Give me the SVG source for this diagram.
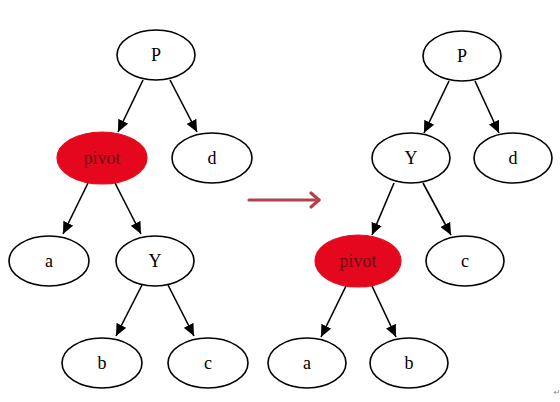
<svg xmlns="http://www.w3.org/2000/svg" width="560" height="402" viewBox="0 0 560 402">
<defs>
<marker id="ah" markerWidth="12" markerHeight="11" viewBox="0 0 12 11" refX="12" refY="5.5" orient="auto" markerUnits="userSpaceOnUse">
<path d="M0,0 L12,5.5 L0,11 Z" fill="#000"/>
</marker>
</defs>
<style>
.n{fill:#fff;stroke:#000;stroke-width:1.6}
.r{fill:#e5071d;stroke:#e0101e;stroke-width:1.2}
.t{font-family:"Liberation Serif",serif;font-size:18px;text-anchor:middle;fill:#000}
.tr{font-family:"Liberation Serif",serif;font-size:18px;text-anchor:middle;fill:#6a0a14}
.e{stroke:#000;stroke-width:1.6;fill:none}
</style>
<rect width="560" height="402" fill="#fff"/>
<g id="connectors">
<line class="e" x1="143" y1="80" x2="118" y2="132" marker-end="url(#ah)"/>
<line class="e" x1="170" y1="80" x2="197" y2="132" marker-end="url(#ah)"/>
<line class="e" x1="88" y1="183" x2="63" y2="234" marker-end="url(#ah)"/>
<line class="e" x1="115" y1="183" x2="141" y2="234" marker-end="url(#ah)"/>
<line class="e" x1="142" y1="285" x2="116" y2="336" marker-end="url(#ah)"/>
<line class="e" x1="168" y1="285" x2="194" y2="336" marker-end="url(#ah)"/>
<line class="e" x1="449" y1="81" x2="424" y2="133" marker-end="url(#ah)"/>
<line class="e" x1="475" y1="81" x2="499" y2="133" marker-end="url(#ah)"/>
<line class="e" x1="394" y1="183" x2="372" y2="235" marker-end="url(#ah)"/>
<line class="e" x1="423" y1="183" x2="451" y2="235" marker-end="url(#ah)"/>
<line class="e" x1="346" y1="286" x2="321" y2="337" marker-end="url(#ah)"/>
<line class="e" x1="372" y1="286" x2="396" y2="337" marker-end="url(#ah)"/>
<g id="transform-arrow" stroke="#b2434d" stroke-width="3.2" fill="none" stroke-linecap="round" stroke-linejoin="round">
<line x1="249" y1="200" x2="319" y2="200"/>
<polyline points="311,193 319,200 311,207"/>
</g>
</g>
<g id="L-P"><ellipse class="n" cx="156" cy="55" rx="39" ry="25"/><text class="t" x="156" y="61">P</text></g>
<g id="L-pivot"><ellipse class="r" cx="102" cy="158" rx="45" ry="26"/><text class="tr" x="102" y="164">pivot</text></g>
<g id="L-d"><ellipse class="n" cx="212" cy="158" rx="40" ry="25"/><text class="t" x="212" y="164">d</text></g>
<g id="L-a"><ellipse class="n" cx="49" cy="261" rx="40" ry="25"/><text class="t" x="49" y="267">a</text></g>
<g id="L-Y"><ellipse class="n" cx="155" cy="261" rx="39" ry="25"/><text class="t" x="155" y="267">Y</text></g>
<g id="L-b"><ellipse class="n" cx="102" cy="363" rx="40" ry="25"/><text class="t" x="102" y="369">b</text></g>
<g id="L-c"><ellipse class="n" cx="208" cy="363" rx="40" ry="25"/><text class="t" x="208" y="369">c</text></g>
<g id="R-P"><ellipse class="n" cx="462" cy="56" rx="39" ry="25"/><text class="t" x="462" y="62">P</text></g>
<g id="R-Y"><ellipse class="n" cx="411" cy="158" rx="39" ry="25"/><text class="t" x="411" y="164">Y</text></g>
<g id="R-d"><ellipse class="n" cx="513" cy="158" rx="39" ry="25"/><text class="t" x="513" y="164">d</text></g>
<g id="R-pivot"><ellipse class="r" cx="358" cy="261" rx="43" ry="26"/><text class="tr" x="358" y="267">pivot</text></g>
<g id="R-c"><ellipse class="n" cx="465" cy="261" rx="39" ry="25"/><text class="t" x="465" y="267">c</text></g>
<g id="R-a"><ellipse class="n" cx="307" cy="363" rx="39" ry="25"/><text class="t" x="307" y="369">a</text></g>
<g id="R-b"><ellipse class="n" cx="409" cy="363" rx="39" ry="25"/><text class="t" x="409" y="369">b</text></g>
<text x="557" y="395" font-family="DejaVu Sans,sans-serif" font-size="8" fill="#888" text-anchor="middle">↵</text>
</svg>
